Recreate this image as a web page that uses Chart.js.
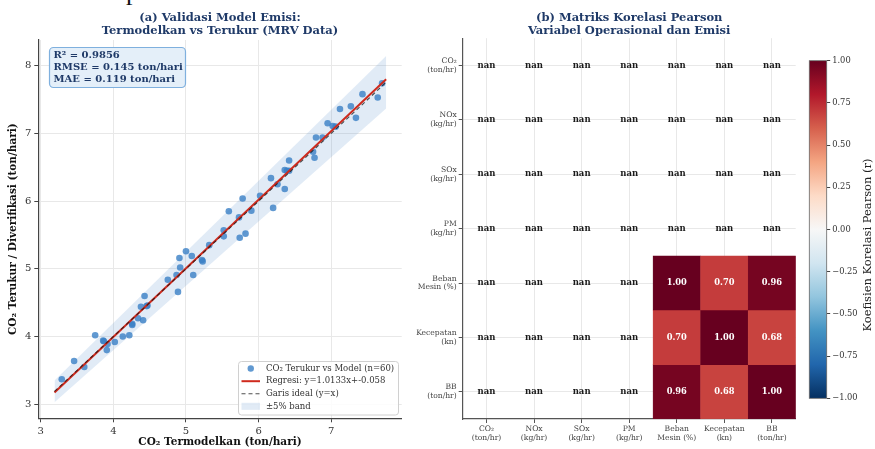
<!DOCTYPE html>
<html>
<head>
<meta charset="utf-8">
<script src="https://cdn.jsdelivr.net/npm/chart.js@4.4.1/dist/chart.umd.min.js"></script>
<style>
  html, body { margin: 0; padding: 0; background: #ffffff; }
  body { width: 875px; height: 449px; position: relative; overflow: hidden; font-family: 'DejaVu Serif', serif; }
  canvas { position: absolute; top: 0; }
  #validasi { left: 0; }
  #korelasi { left: 405px; }
  #skala { left: 790px; }
  #potongan { position: absolute; left: 126px; top: -21px; font: 26px 'Liberation Serif', serif; color: #111; line-height: 26px; }
</style>
</head>
<body>
<div id="potongan">p</div>
<canvas id="validasi" width="440" height="449"></canvas>
<canvas id="korelasi" width="395" height="449"></canvas>
<canvas id="skala" width="85" height="449"></canvas>
<script>
// ---------- (a) modelled vs measured CO2 ----------
const modelX = [
  3.29, 3.46, 3.60, 3.75, 3.87, 3.91, 3.92, 3.86, 4.02, 4.13,
  4.22, 4.26, 4.26, 4.34, 4.41, 4.38, 4.43, 4.46, 4.47, 4.75,
  4.89, 4.87, 4.92, 4.91, 5.00, 5.10, 5.08, 5.22, 5.23, 5.32,
  5.52, 5.52, 5.59, 5.73, 5.74, 5.78, 5.82, 5.90, 6.02, 6.17,
  6.20, 6.26, 6.36, 6.36, 6.39, 6.42, 6.42, 6.75, 6.77, 6.79,
  6.88, 6.95, 7.02, 7.06, 7.12, 7.27, 7.34, 7.43, 7.64, 7.70
];
const measuredY = [
  3.37, 3.64, 3.55, 4.02, 3.93, 3.80, 3.89, 3.94, 3.92, 4.00,
  4.02, 4.19, 4.17, 4.27, 4.24, 4.44, 4.60, 4.45, 4.46, 4.84,
  4.66, 4.91, 5.02, 5.16, 5.26, 4.91, 5.19, 5.13, 5.11, 5.35,
  5.57, 5.48, 5.85, 5.76, 5.46, 6.04, 5.52, 5.86, 6.08, 6.34,
  5.90, 6.25, 6.18, 6.46, 6.45, 6.60, 6.45, 6.73, 6.64, 6.94,
  6.94, 7.15, 7.11, 7.10, 7.36, 7.40, 7.23, 7.58, 7.53, 7.74
];
const fitRange = [3.19, 7.756];
const regSlope = 1.0133;
const regIntercept = -0.058;
const bandFraction = 0.05;
const statLines = ['R² = 0.9856', 'RMSE = 0.145 ton/hari', 'MAE = 0.119 ton/hari'];
const seriesLabels = ['CO₂ Terukur vs Model (n=60)', 'Regresi: y=1.0133x+-0.058', 'Garis ideal (y=x)', '±5% band'];
const titleA = ['(a) Validasi Model Emisi:', 'Termodelkan vs Terukur (MRV Data)'];

// ---------- (b) Pearson correlation matrix ----------
const varLabels = [
  ['CO₂', '(ton/hr)'], ['NOx', '(kg/hr)'], ['SOx', '(kg/hr)'], ['PM', '(kg/hr)'],
  ['Beban', 'Mesin (%)'], ['Kecepatan', '(kn)'], ['BB', '(ton/hr)']
];
const corrMatrix = [
  [null, null, null, null, null, null, null],
  [null, null, null, null, null, null, null],
  [null, null, null, null, null, null, null],
  [null, null, null, null, null, null, null],
  [null, null, null, null, 1.00, 0.70, 0.96],
  [null, null, null, null, 0.70, 1.00, 0.68],
  [null, null, null, null, 0.96, 0.68, 1.00]
];
const titleB = ['(b) Matriks Korelasi Pearson', 'Variabel Operasional dan Emisi'];
const colorbarTitle = 'Koefisien Korelasi Pearson (r)';

const NAVY = '#1f3a68';
const SERIF = "'DejaVu Serif', serif";
Chart.defaults.font.family = SERIF;
Chart.defaults.animation = false;
Chart.defaults.plugins.legend.display = false;
Chart.defaults.plugins.tooltip.enabled = false;

// RdBu_r colour map
const RDBU = ['#053061', '#2166ac', '#4393c3', '#92c5de', '#d1e5f0', '#f7f7f7', '#fddbc7', '#f4a582', '#d6604d', '#b2182b', '#67001f'];
function hexRgb(h) { return [1, 3, 5].map(i => parseInt(h.substr(i, 2), 16)); }
function rdbuR(v) {
  const t = (v + 1) / 2 * 10;
  const i = Math.max(0, Math.min(9, Math.floor(t)));
  const f = t - i;
  const a = hexRgb(RDBU[i]), b = hexRgb(RDBU[i + 1]);
  const c = a.map((x, k) => Math.round(x + (b[k] - x) * f));
  return `rgb(${c[0]},${c[1]},${c[2]})`;
}

function roundRect(ctx, x, y, w, h, r) {
  ctx.beginPath();
  ctx.moveTo(x + r, y);
  ctx.arcTo(x + w, y, x + w, y + h, r);
  ctx.arcTo(x + w, y + h, x, y + h, r);
  ctx.arcTo(x, y + h, x, y, r);
  ctx.arcTo(x, y, x + w, y, r);
  ctx.closePath();
}

function drawTitle(ctx, lines, cx) {
  ctx.save();
  ctx.fillStyle = NAVY;
  ctx.font = `bold 11.5px ${SERIF}`;
  ctx.textAlign = 'center';
  ctx.textBaseline = 'middle';
  ctx.fillText(lines[0], cx, 18);
  ctx.fillText(lines[1], cx, 31);
  ctx.restore();
}

// title, statistics box and legend of panel (a)
const panelAExtras = {
  id: 'panelAExtras',
  afterDraw(chart) {
    const ctx = chart.ctx;
    const area = chart.chartArea;
    drawTitle(ctx, titleA, (area.left + area.right) / 2);

    // statistics box
    ctx.save();
    roundRect(ctx, 49.5, 47.5, 136, 40, 4);
    ctx.fillStyle = '#e4eff9';
    ctx.fill();
    ctx.strokeStyle = '#7fb0de';
    ctx.lineWidth = 1.2;
    ctx.stroke();
    ctx.fillStyle = NAVY;
    ctx.font = `bold 10px ${SERIF}`;
    ctx.textBaseline = 'middle';
    statLines.forEach((s, i) => ctx.fillText(s, 53.5, 55 + i * 12.3));
    ctx.restore();

    // legend
    const ds = chart.data.datasets;
    ctx.save();
    roundRect(ctx, 238.5, 361.5, 160, 53.5, 3);
    ctx.fillStyle = 'rgba(255,255,255,0.85)';
    ctx.fill();
    ctx.strokeStyle = '#d0d0d0';
    ctx.lineWidth = 1;
    ctx.stroke();
    ctx.font = `8.5px ${SERIF}`;
    ctx.textBaseline = 'middle';
    ctx.fillStyle = '#333';
    const rows = [368.5, 381.2, 393.8, 406.3];
    const hx0 = 241.5, hx1 = 260;
    rows.forEach((y, i) => {
      const d = ds[i];
      ctx.save();
      if (i === 0) {
        ctx.fillStyle = d.backgroundColor;
        ctx.beginPath();
        ctx.arc((hx0 + hx1) / 2, y, 3.2, 0, Math.PI * 2);
        ctx.fill();
      } else if (i === 3) {
        ctx.fillStyle = d.backgroundColor;
        ctx.fillRect(hx0, y - 3.5, hx1 - hx0, 7);
      } else {
        ctx.strokeStyle = d.borderColor;
        ctx.lineWidth = d.borderWidth;
        ctx.setLineDash(d.borderDash || []);
        ctx.beginPath();
        ctx.moveTo(hx0, y);
        ctx.lineTo(hx1, y);
        ctx.stroke();
      }
      ctx.restore();
      ctx.fillText(d.label, 266, y);
    });
    ctx.restore();
  }
};

new Chart(document.getElementById('validasi'), {
  type: 'scatter',
  data: {
    datasets: [
      {
        label: seriesLabels[0],
        data: modelX.map((x, i) => ({ x: x, y: measuredY[i] })),
        backgroundColor: 'rgba(58,128,198,0.8)',
        borderWidth: 0,
        pointRadius: 3.3,
        order: 3
      },
      {
        label: seriesLabels[1],
        type: 'line',
        data: fitRange.map(x => ({ x: x, y: regSlope * x + regIntercept })),
        borderColor: '#cf2a1d',
        borderWidth: 2,
        pointRadius: 0,
        fill: false,
        order: 2
      },
      {
        label: seriesLabels[2],
        type: 'line',
        data: fitRange.map(x => ({ x: x, y: x })),
        borderColor: 'rgba(20,20,20,0.75)',
        borderWidth: 1.1,
        borderDash: [4, 3],
        pointRadius: 0,
        fill: false,
        order: 1
      },
      {
        label: seriesLabels[3],
        type: 'line',
        data: fitRange.map(x => ({ x: x, y: x * (1 + bandFraction) })),
        borderWidth: 0,
        borderColor: 'rgba(0,0,0,0)',
        backgroundColor: 'rgba(90,145,205,0.18)',
        pointRadius: 0,
        fill: '+1',
        order: 5
      },
      {
        label: 'lower',
        type: 'line',
        data: fitRange.map(x => ({ x: x, y: x * (1 - bandFraction) })),
        borderWidth: 0,
        borderColor: 'rgba(0,0,0,0)',
        pointRadius: 0,
        fill: false,
        order: 6
      }
    ]
  },
  options: {
    responsive: false,
    layout: { padding: { top: 40, right: 38.3, left: 0, bottom: 0 } },
    scales: {
      x: {
        type: 'linear', min: 2.967, max: 7.97,
        ticks: { stepSize: 1, includeBounds: false, font: { size: 10 }, color: '#333', padding: 3 },
        grid: { color: '#e8e8e8', tickColor: '#444', tickLength: 4 },
        border: { color: '#444', width: 1.2 },
        title: { display: true, text: 'CO₂ Termodelkan (ton/hari)', font: { size: 10.5, weight: 'bold' }, color: '#111', padding: 0 },
        afterFit(s) { s.height = 30.7; }
      },
      y: {
        type: 'linear', min: 2.793, max: 8.38,
        ticks: { stepSize: 1, includeBounds: false, font: { size: 10 }, color: '#333', padding: 3 },
        grid: { color: '#e8e8e8', tickColor: '#444', tickLength: 4 },
        border: { color: '#444', width: 1.2 },
        title: { display: true, text: 'CO₂ Terukur / Diverifikasi (ton/hari)', font: { size: 10.5, weight: 'bold' }, color: '#111', padding: { top: 7 } },
        afterFit(s) { s.width = 38.3; }
      }
    }
  },
  plugins: [panelAExtras]
});

// ---------- (b) heatmap built from floating bars, one dataset per row ----------
const panelBExtras = {
  id: 'panelBExtras',
  afterDraw(chart) {
    const ctx = chart.ctx;
    const area = chart.chartArea;
    drawTitle(ctx, titleB, (area.left + area.right) / 2);
    const xs = chart.scales.x, ys = chart.scales.y;
    ctx.save();
    ctx.textAlign = 'center';
    ctx.textBaseline = 'middle';
    corrMatrix.forEach((row, r) => {
      row.forEach((v, c) => {
        const px = xs.getPixelForValue(c);
        const py = ys.getPixelForValue(r);
        if (v === null) {
          ctx.fillStyle = '#1a1a1a';
          ctx.font = `bold 8.5px ${SERIF}`;
          ctx.fillText('nan', px, py);
        } else {
          ctx.fillStyle = '#ffffff';
          ctx.font = `bold 8.3px ${SERIF}`;
          ctx.fillText(v.toFixed(2), px, py);
        }
      });
    });
    ctx.restore();
  }
};

new Chart(document.getElementById('korelasi'), {
  type: 'bar',
  data: {
    labels: varLabels,
    datasets: corrMatrix.map((row, r) => ({
      label: varLabels[r].join(' '),
      data: row.map(v => (v === null ? null : [r - 0.5, r + 0.5])),
      backgroundColor: row.map(v => (v === null ? 'rgba(0,0,0,0)' : rdbuR(v))),
      borderColor: row.map(v => (v === null ? 'rgba(0,0,0,0)' : rdbuR(v))),
      borderWidth: 0.5,
      borderSkipped: false,
      grouped: false,
      barPercentage: 1,
      categoryPercentage: 1
    }))
  },
  options: {
    responsive: false,
    layout: { padding: { top: 38.2, right: 4.3, left: 0, bottom: 0 } },
    scales: {
      x: {
        z: 1,
        ticks: { font: { size: 7.6, lineHeight: 1.15 }, color: '#444', padding: 2, maxRotation: 0, autoSkip: false },
        grid: { offset: false, color: 'rgba(205,205,205,0.45)', tickColor: '#555', tickLength: 4 },
        border: { color: '#555', width: 1.2 },
        afterFit(s) { s.height = 30; }
      },
      y: {
        z: 1,
        type: 'linear', min: -0.5, max: 6.5, reverse: true,
        afterBuildTicks(s) { s.ticks = varLabels.map((_, i) => ({ value: i })); },
        ticks: {
          font: { size: 7.6, lineHeight: 1.15 }, color: '#444', padding: 2, autoSkip: false,
          callback: v => varLabels[v]
        },
        grid: { color: 'rgba(205,205,205,0.45)', tickColor: '#555', tickLength: 4 },
        border: { color: '#555', width: 1.2 },
        afterFit(s) { s.width = 57.7; }
      }
    }
  },
  plugins: [panelBExtras]
});

// ---------- colour bar ----------
const colorbarExtras = {
  id: 'colorbarExtras',
  afterDraw(chart) {
    const ctx = chart.ctx;
    const a = chart.chartArea;
    ctx.save();
    ctx.strokeStyle = '#666';
    ctx.lineWidth = 0.8;
    ctx.strokeRect(a.left, a.top, a.right - a.left, a.bottom - a.top);
    ctx.translate(78.5, 245);
    ctx.rotate(-Math.PI / 2);
    ctx.fillStyle = '#222';
    ctx.font = `11.5px ${SERIF}`;
    ctx.textAlign = 'center';
    ctx.textBaseline = 'middle';
    ctx.fillText(colorbarTitle, 0, 0);
    ctx.restore();
  }
};

new Chart(document.getElementById('skala'), {
  type: 'bar',
  data: {
    labels: [''],
    datasets: [{
      label: colorbarTitle,
      data: [[-1, 1]],
      backgroundColor(c) {
        const area = c.chart.chartArea;
        if (!area) return null;
        const g = c.chart.ctx.createLinearGradient(0, area.bottom, 0, area.top);
        RDBU.forEach((col, i) => g.addColorStop(i / 10, col));
        return g;
      },
      borderWidth: 0,
      barPercentage: 1,
      categoryPercentage: 1
    }]
  },
  options: {
    responsive: false,
    layout: { padding: { top: 60.7, bottom: 50.7, left: 19.3, right: 0 } },
    scales: {
      x: { display: false },
      y: {
        position: 'right', min: -1, max: 1,
        ticks: {
          stepSize: 0.25, font: { size: 8.3 }, color: '#333', padding: 2,
          callback: v => (v < 0 ? '−' : '') + Math.abs(v).toFixed(2)
        },
        grid: { drawOnChartArea: false, tickColor: '#444', tickLength: 3.5 },
        border: { display: false },
        afterFit(s) { s.width = 48.3; }
      }
    }
  },
  plugins: [colorbarExtras]
});
</script>
</body>
</html>
